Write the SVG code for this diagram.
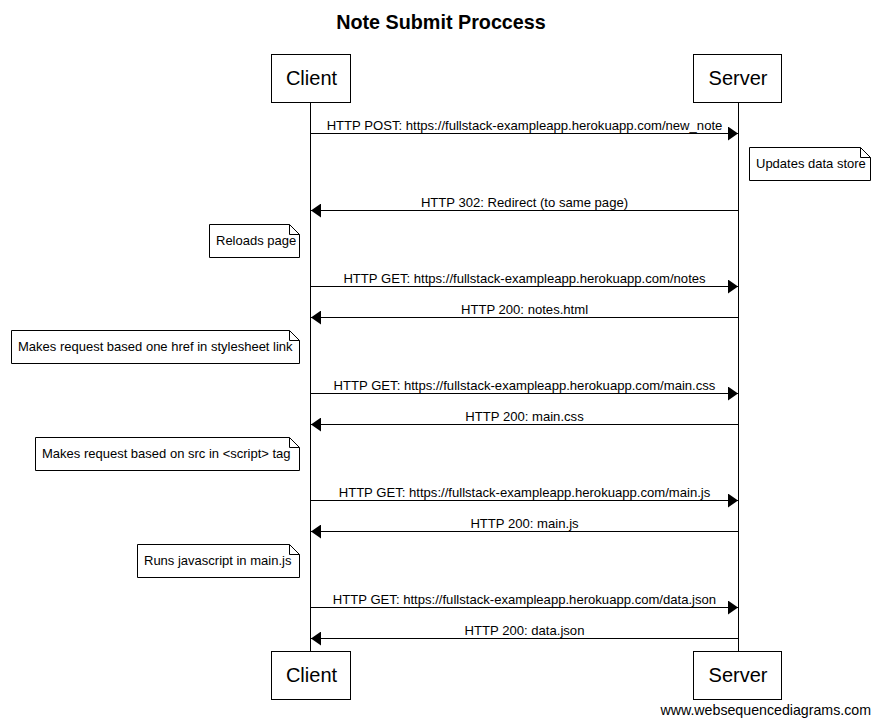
<svg xmlns="http://www.w3.org/2000/svg" width="880" height="724" viewBox="0 0 880 724">
<style>
text{font-family:"Liberation Sans",Arial,sans-serif;fill:#000}
.actor rect{fill:#fff;stroke:#000;stroke-width:1}
.actor text{font-size:20px;text-anchor:middle}
.life{stroke:#000;stroke-width:1}
.msg{stroke:#000;stroke-width:1;fill:none;marker-end:url(#ah)}
.lbl{font-size:13.1px;text-anchor:middle}
.note path{fill:#fff;stroke:#000;stroke-width:1}
.note text{font-size:13px}
</style>
<defs>
<marker id="ah" viewBox="0 0 10 14" refX="10" refY="7" markerWidth="10" markerHeight="14" markerUnits="userSpaceOnUse" orient="auto">
<path d="M0,0 L10,7 L0,14 Z" fill="#000"/>
</marker>
</defs>
<rect width="880" height="724" fill="#fff"/>
<text x="441" y="29" font-size="19.75" font-weight="bold" text-anchor="middle">Note Submit Proccess</text>
<g id="lifelines">
<line class="life" x1="310.5" y1="103" x2="310.5" y2="651"/>
<line class="life" x1="738.5" y1="103" x2="738.5" y2="651"/>
</g>
<g id="client-top" class="actor"><rect x="271.5" y="54.5" width="79" height="48"/><text x="311.5" y="85">Client</text></g>
<g id="server-top" class="actor"><rect x="693.5" y="54.5" width="88" height="48"/><text x="738" y="85">Server</text></g>
<g id="client-bottom" class="actor"><rect x="271.5" y="651.5" width="79" height="48"/><text x="311.5" y="682">Client</text></g>
<g id="server-bottom" class="actor"><rect x="693.5" y="651.5" width="88" height="48"/><text x="738" y="682">Server</text></g>
<g id="connectors">
<line class="msg" x1="310.5" y1="133.5" x2="738" y2="133.5"/>
<text class="lbl" x="524.5" y="130">HTTP POST: https://fullstack-exampleapp.herokuapp.com/new_note</text>
<line class="msg" x1="738.5" y1="210.5" x2="311" y2="210.5"/>
<text class="lbl" x="524.5" y="207">HTTP 302: Redirect (to same page)</text>
<line class="msg" x1="310.5" y1="286.5" x2="738" y2="286.5"/>
<text class="lbl" x="524.5" y="283">HTTP GET: https://fullstack-exampleapp.herokuapp.com/notes</text>
<line class="msg" x1="738.5" y1="317.5" x2="311" y2="317.5"/>
<text class="lbl" x="524.5" y="314">HTTP 200: notes.html</text>
<line class="msg" x1="310.5" y1="393.5" x2="738" y2="393.5"/>
<text class="lbl" x="524.5" y="390">HTTP GET: https://fullstack-exampleapp.herokuapp.com/main.css</text>
<line class="msg" x1="738.5" y1="424.5" x2="311" y2="424.5"/>
<text class="lbl" x="524.5" y="421">HTTP 200: main.css</text>
<line class="msg" x1="310.5" y1="500.5" x2="738" y2="500.5"/>
<text class="lbl" x="524.5" y="497">HTTP GET: https://fullstack-exampleapp.herokuapp.com/main.js</text>
<line class="msg" x1="738.5" y1="531.5" x2="311" y2="531.5"/>
<text class="lbl" x="524.5" y="528">HTTP 200: main.js</text>
<line class="msg" x1="310.5" y1="607.5" x2="738" y2="607.5"/>
<text class="lbl" x="524.5" y="604">HTTP GET: https://fullstack-exampleapp.herokuapp.com/data.json</text>
<line class="msg" x1="738.5" y1="638.5" x2="311" y2="638.5"/>
<text class="lbl" x="524.5" y="635">HTTP 200: data.json</text>
</g>
<g id="note1" class="note">
<path d="M749.5,147.5 H860.5 L870.5,157.5 V180.5 H749.5 Z M860.5,147.5 V157.5 H870.5"/>
<text x="756" y="168">Updates data store</text>
</g>
<g id="note2" class="note">
<path d="M209.5,224.5 H289.5 L299.5,234.5 V257.5 H209.5 Z M289.5,224.5 V234.5 H299.5"/>
<text x="216" y="245">Reloads page</text>
</g>
<g id="note3" class="note">
<path d="M11.5,330.5 H289.5 L299.5,340.5 V363.5 H11.5 Z M289.5,330.5 V340.5 H299.5"/>
<text x="18" y="351">Makes request based one href in stylesheet link</text>
</g>
<g id="note4" class="note">
<path d="M35.5,437.5 H289.5 L299.5,447.5 V470.5 H35.5 Z M289.5,437.5 V447.5 H299.5"/>
<text x="42" y="458">Makes request based on src in &lt;script&gt; tag</text>
</g>
<g id="note5" class="note">
<path d="M137.5,544.5 H289.5 L299.5,554.5 V577.5 H137.5 Z M289.5,544.5 V554.5 H299.5"/>
<text x="144" y="565">Runs javascript in main.js</text>
</g>
<text x="871" y="715" font-size="14.2" text-anchor="end">www.websequencediagrams.com</text>
</svg>
